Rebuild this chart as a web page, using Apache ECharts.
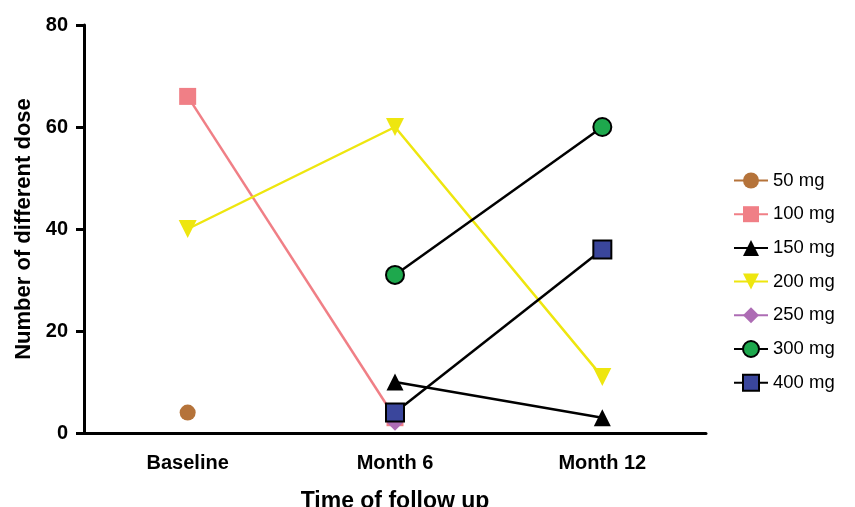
<!DOCTYPE html>
<html>
<head>
<meta charset="utf-8">
<script src="https://cdn.jsdelivr.net/npm/echarts@6/dist/echarts.min.js"></script>
<style>
  html, body { margin: 0; padding: 0; background: #fff; }
  #chart { width: 855px; height: 507px; }
</style>
</head>
<body>
<div id="chart"></div>
<script>
// 数据
const categories = ['Baseline', 'Month 6', 'Month 12']
const dose50 = [4, null, null]
const dose100 = [66, 3, null]
const dose150 = [null, 10, 3]
const dose200 = [40, 60, 11]
const dose250 = [null, 2, null]
const dose300 = [null, 31, 60]
const dose400 = [null, 4, 36]

const font = 'Liberation Sans, Arial, Helvetica, sans-serif'

function makeSeries(name, data, color, symbol, size, opts) {
  return Object.assign({
    name,
    type: 'line',
    data,
    symbol,
    symbolSize: size,
    connectNulls: false,
    lineStyle: { color, width: 2.5 },
    itemStyle: { color, borderWidth: 0 },
    emphasis: { disabled: true },
    z: 2,
  }, opts || {})
}

const chart = echarts.init(document.getElementById('chart'))
chart.setOption({
  animation: false,
  backgroundColor: '#fff',
  grid: { left: 84, right: 149, top: 25, bottom: 74, containLabel: false, outerBoundsMode: 'none' },
  xAxis: {
    type: 'category',
    data: categories,
    boundaryGap: true,
    name: 'Time of follow up',
    nameLocation: 'middle',
    nameGap: 57,
    nameTextStyle: { color: '#000', fontFamily: font, fontWeight: 'bold', fontSize: 23 },
    axisLine: { lineStyle: { color: '#000', width: 3 } },
    axisTick: { alignWithLabel: true, length: 8, lineStyle: { color: '#000', width: 3 } },
    axisLabel: { color: '#000', fontFamily: font, fontWeight: 'bold', fontSize: 20, margin: 20 },
    splitLine: { show: false },
  },
  yAxis: {
    type: 'value',
    min: 0,
    max: 80,
    interval: 20,
    name: 'Number of different dose',
    nameLocation: 'middle',
    nameGap: 48,
    nameTextStyle: { color: '#000', fontFamily: font, fontWeight: 'bold', fontSize: 22 },
    axisLine: { show: true, lineStyle: { color: '#000', width: 3 } },
    axisTick: { show: true, length: 8, lineStyle: { color: '#000', width: 3 } },
    axisLabel: { color: '#000', fontFamily: font, fontWeight: 'bold', fontSize: 20, margin: 16 },
    splitLine: { show: false },
  },
  legend: {
    orient: 'vertical',
    left: 728,
    top: 166,
    itemWidth: 34,
    itemHeight: 20,
    itemGap: 14.7,
    textStyle: { color: '#000', fontFamily: font, fontSize: 18.5 },
    data: ['50 mg', '100 mg', '150 mg', '200 mg', '250 mg', '300 mg', '400 mg'],
  },
  series: [
    makeSeries('50 mg', dose50, '#b5733a', 'circle', 16),
    makeSeries('100 mg', dose100, '#f07f86', 'rect', 17),
    makeSeries('150 mg', dose150, '#000', 'triangle', 17),
    makeSeries('200 mg', dose200, '#eee60f', 'triangle', 18, { symbolRotate: 180 }),
    makeSeries('250 mg', dose250, '#ad6cb4', 'diamond', 16),
    makeSeries('300 mg', dose300, '#000', 'circle', 18, {
      itemStyle: { color: '#1ea84d', borderColor: '#000', borderWidth: 2 },
    }),
    makeSeries('400 mg', dose400, '#000', 'rect', 18, {
      itemStyle: { color: '#3a469c', borderColor: '#000', borderWidth: 2 },
    }),
  ],
})
</script>
</body>
</html>
